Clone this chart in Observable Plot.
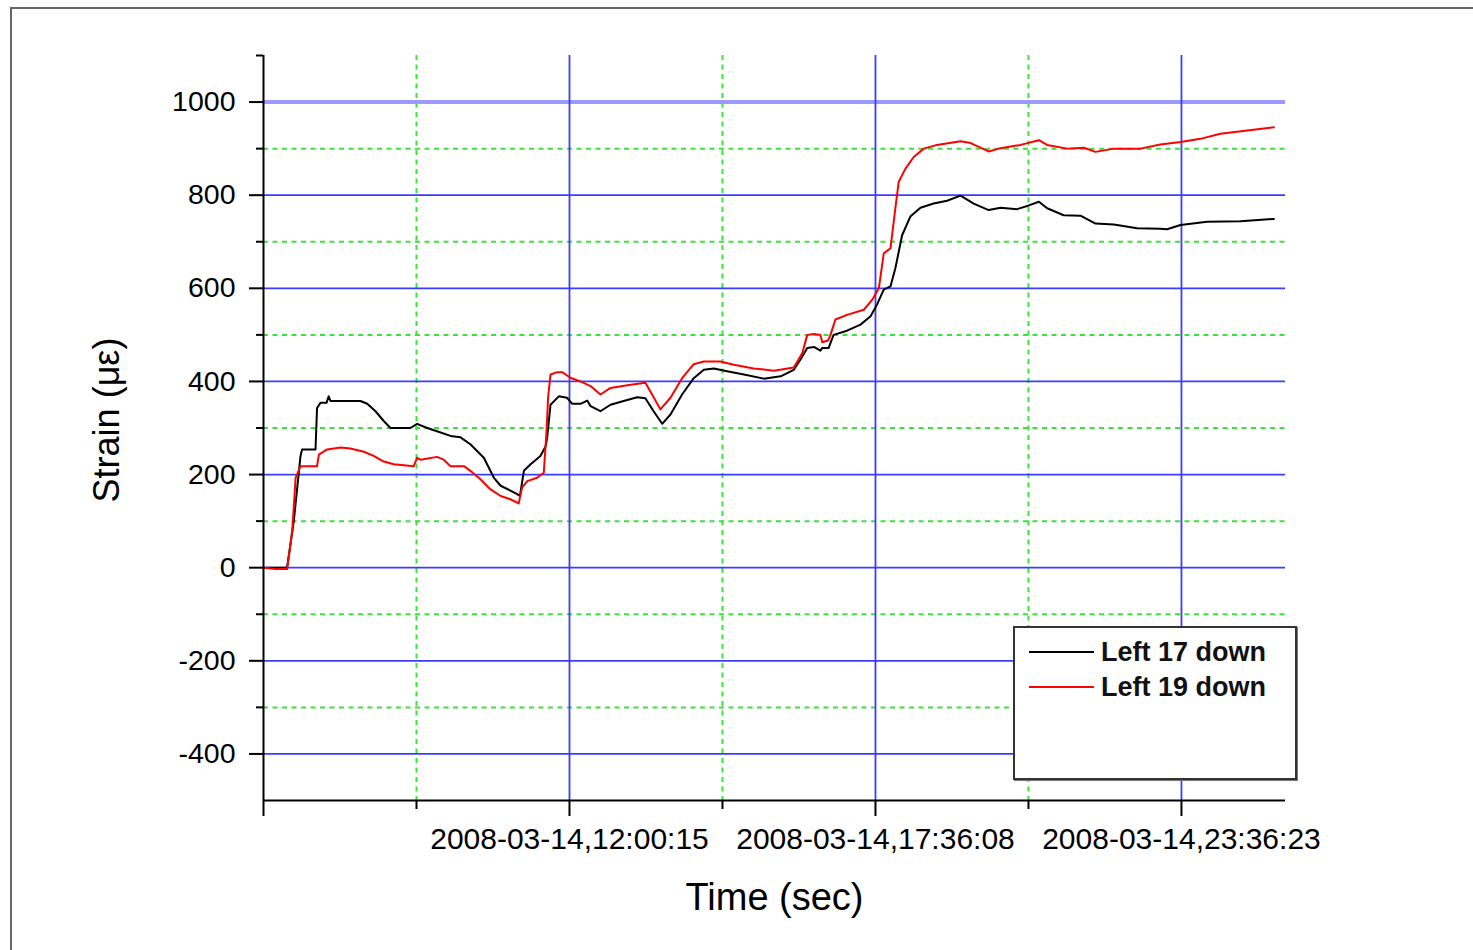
<!DOCTYPE html>
<html>
<head>
<meta charset="utf-8">
<script src="https://cdn.jsdelivr.net/npm/d3@7"></script>
<script src="https://cdn.jsdelivr.net/npm/@observablehq/plot@0.6"></script>
<style>
  html, body { margin: 0; padding: 0; background: #fff; overflow: hidden; }
  body { width: 1473px; height: 950px; position: relative; font-family: "Liberation Sans", Arial, sans-serif; }
  #frame { position: absolute; left: 10px; top: 7px; width: 1600px; height: 1100px; border: 2px solid #666; box-sizing: border-box; }
  #chart { position: absolute; left: 0; top: 0; }
  #legend { position: absolute; left: 1013px; top: 626px; width: 284px; height: 154px; box-sizing: border-box;
            border: 2px solid #333; background: #fff; box-shadow: 1px 1px 0 #777; }
  .row { position: absolute; left: 0; height: 30px; }
  .swatch { position: absolute; left: 14px; width: 65px; height: 0; border-top: 2px solid; }
  .lab { position: absolute; left: 86px; font-size: 27px; font-weight: bold; color: #111; white-space: nowrap; line-height: 30px; }
</style>
</head>
<body>
<div id="frame"></div>
<div id="chart"></div>
<div id="legend"></div>
<script>
// ---- data (x: sample position along the time axis, y: strain in microstrain) ----
const seriesNames = ["Left 17 down", "Left 19 down"];
const seriesColors = ["#000000", "#ff0000"];

const left17 = [[0,0],[77,0],[99,100],[121,240],[126,254],[170,254],[175,343],[186,354],[206,354],[213,368],[219,358],[317,358],[339,352],[366,336],[393,315],[415,300],[480,300],[502,309],[535,300],[567,293],[611,283],[644,280],[676,265],[720,236],[753,193],[775,176],[829,158],[838,154],[851,208],[873,222],[905,240],[922,261],[927,279],[938,350],[965,368],[992,365],[1009,352],[1036,352],[1058,359],[1069,347],[1101,336],[1134,350],[1177,358],[1221,366],[1248,364],[1275,336],[1303,309],[1330,329],[1368,372],[1406,407],[1439,425],[1472,428],[1515,422],[1570,415],[1635,406],[1690,411],[1733,425],[1755,447],[1777,472],[1799,474],[1820,466],[1826,472],[1847,472],[1863,500],[1907,509],[1951,522],[1984,540],[2005,565],[2027,597],[2049,604],[2065,643],[2087,714],[2114,754],[2147,773],[2190,782],[2234,788],[2278,799],[2321,782],[2370,768],[2409,773],[2463,770],[2501,778],[2534,786],[2561,772],[2615,757],[2670,756],[2719,739],[2779,737],[2855,729],[2931,728],[2953,727],[2997,736],[3084,743],[3193,744],[3302,749]];

const left19 = [[0,0],[40,-3],[77,-3],[94,79],[105,193],[121,218],[175,218],[181,243],[208,254],[252,258],[284,256],[328,249],[360,240],[393,228],[426,222],[491,218],[502,236],[513,232],[567,238],[589,232],[611,218],[655,218],[676,208],[709,190],[742,168],[775,154],[807,147],[834,138],[845,172],[862,186],[894,193],[916,204],[925,293],[930,365],[938,415],[960,420],[976,420],[1003,408],[1036,400],[1069,390],[1101,372],[1134,386],[1189,392],[1248,397],[1270,372],[1297,340],[1330,365],[1368,407],[1406,437],[1439,443],[1493,443],[1537,436],[1602,428],[1668,423],[1733,430],[1761,461],[1777,500],[1799,502],[1820,500],[1826,484],[1845,488],[1853,500],[1869,533],[1907,543],[1962,554],[1989,575],[2011,600],[2027,675],[2049,686],[2065,772],[2076,829],[2098,857],[2125,882],[2158,900],[2201,908],[2278,916],[2311,912],[2370,894],[2409,901],[2474,908],[2534,918],[2561,908],[2627,900],[2681,902],[2719,893],[2779,900],[2866,900],[2931,909],[2997,914],[3062,921],[3127,932],[3215,939],[3302,946]];

const xMajorTicks = [0, 1000, 2000, 3000];
const xTickLabels = ["", "2008-03-14,12:00:15", "2008-03-14,17:36:08", "2008-03-14,23:36:23"];
const xMinorTicks = [500, 1500, 2500];
const yMajorTicks = [-400, -200, 0, 200, 400, 600, 800, 1000];
const yMinorTicks = [-300, -100, 100, 300, 500, 700, 900, 1100];
const xTitle = "Time (sec)";
const yTitle = "Strain (\u03bc\u03b5)";

// ---- build table ----
const rows = [];
[left17, left19].forEach((s, i) => s.forEach(([x, y]) => rows.push({series: seriesNames[i], x, y})));

const font = "Liberation Sans, Arial, sans-serif";
const chart = Plot.plot({
  width: 1473,
  height: 950,
  marginLeft: 263,
  marginRight: 188,
  marginTop: 55,
  marginBottom: 150,
  style: {fontFamily: font, fontSize: "28px", background: "transparent", overflow: "visible", color: "#000"},
  x: {domain: [0, 3340], axis: null},
  y: {domain: [-500, 1100], axis: null},
  color: {domain: seriesNames, range: seriesColors},
  marks: [
    // minor dotted grid (green)
    Plot.ruleY(yMinorTicks.filter(d => d < 1100), {stroke: "#3ee03e", strokeWidth: 2, strokeDasharray: "5,4.5"}),
    Plot.ruleX(xMinorTicks, {stroke: "#3ee03e", strokeWidth: 2, strokeDasharray: "5,4.5"}),
    // major grid (blue)
    Plot.ruleY(yMajorTicks.filter(d => d !== 1000), {stroke: "#3c3cff", strokeWidth: 1.8}),
    Plot.ruleY([1000], {stroke: "#9a9aff", strokeWidth: 4}),
    Plot.ruleX(xMajorTicks.filter(d => d > 0), {stroke: "#3c3cff", strokeWidth: 1.8}),
    // data
    Plot.line(rows, {x: "x", y: "y", z: "series", stroke: "series", strokeWidth: 2}),
    // axis lines
    Plot.ruleX([0], {stroke: "#000", strokeWidth: 2}),
    Plot.ruleY([-500], {stroke: "#000", strokeWidth: 2}),
    // axes
    Plot.axisY(yMajorTicks, {anchor: "left", tickSize: 14, tickPadding: 14, strokeWidth: 2, fontSize: 28.5, label: null, tickFormat: d => String(d)}),
    Plot.axisY(yMinorTicks, {anchor: "left", tickSize: 7, strokeWidth: 2, label: null, tickFormat: () => ""}),
    Plot.axisX(xMajorTicks, {anchor: "bottom", tickSize: 16, tickPadding: 11, strokeWidth: 2, fontSize: 30, label: null,
      tickFormat: d => xTickLabels[xMajorTicks.indexOf(d)]}),
    Plot.axisX(xMinorTicks, {anchor: "bottom", tickSize: 9, strokeWidth: 2, label: null, tickFormat: () => ""}),
    // titles
    Plot.text([xTitle], {text: d => d, frameAnchor: "bottom", dy: 97, fontSize: 38, lineAnchor: "middle", textAnchor: "middle"}),
    Plot.text([yTitle], {text: d => d, frameAnchor: "left", dx: -156, dy: -8, rotate: -90, fontSize: 36, lineAnchor: "middle", textAnchor: "middle"})
  ]
});
document.getElementById("chart").appendChild(chart);

// ---- legend ----
const legend = document.getElementById("legend");
seriesNames.forEach((name, i) => {
  const row = document.createElement("div");
  row.className = "row";
  row.style.top = (9 + i * 35) + "px";
  const sw = document.createElement("div");
  sw.className = "swatch";
  sw.style.top = "14px";
  sw.style.borderTopColor = seriesColors[i];
  const lab = document.createElement("div");
  lab.className = "lab";
  lab.textContent = name;
  row.appendChild(sw);
  row.appendChild(lab);
  legend.appendChild(row);
});
</script>
</body>
</html>
